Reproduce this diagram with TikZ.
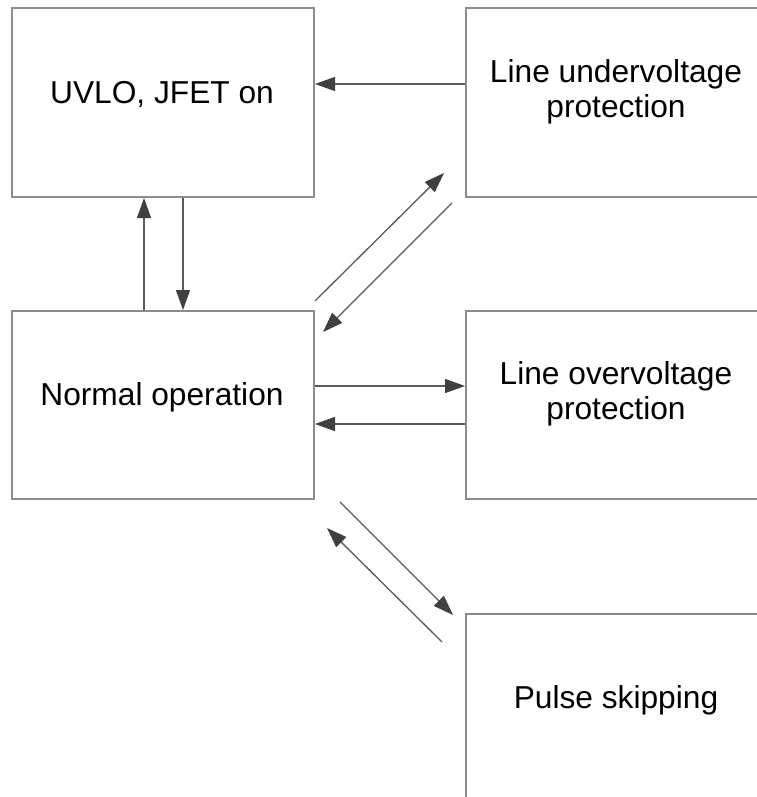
\documentclass[tikz,border=0pt]{standalone}
\usepackage{fontspec}
\setmainfont{Liberation Sans}
\usetikzlibrary{arrows.meta,calc}
\definecolor{boxgray}{HTML}{8C8C8C}
\definecolor{arrgray}{HTML}{5A5A5A}
\definecolor{tipgray}{HTML}{404040}
\begin{document}
\begin{tikzpicture}[x=1pt,y=-1pt,
  box/.style={draw=boxgray,line width=2pt,minimum width=302pt,minimum height=188pt,inner sep=0pt,anchor=north west},
  lbl/.style={font=\fontsize{31.7}{35}\selectfont,inner sep=0pt,align=center,text=black},
  arr/.style={draw=arrgray,line width=1.3pt,-{Triangle[length=20pt,width=14pt,fill=tipgray,color=tipgray]}}]
\useasboundingbox (0,0) rectangle (756,797);
\fill[white] (0,0) rectangle (756,797);
% boxes
\node[box,minimum height=189pt] (uvlo) at (11,7) {};
\node[box,minimum height=189pt] (luv) at (465,7) {};
\node[box] (normal) at (11,310) {};
\node[box] (lov) at (465,310) {};
\node[box] (pulse) at (465,613) {};
% texts
\node[lbl,anchor=base] (uvlot) at (162,103) {UVLO, JFET on};
\node[lbl,anchor=base] (normalt) at (162,405) {Normal operation};
\node[lbl,anchor=base] (pulset) at (616,708) {Pulse skipping};
\node[lbl] (luvt) at (616,91.5) {Line undervoltage\\protection};
\node[lbl] (lovt) at (616,394) {Line overvoltage\\protection};
% connectors
\draw[arr] ($(luv.west)+(0,-18.5)$) -- ($(uvlo.east)+(0,-18.5)$);
\draw[arr] ($(normal.north)+(-19,0)$) -- ($(uvlo.south)+(-19,0)$);
\draw[arr] ($(uvlo.south)+(20,0)$) -- ($(normal.north)+(20,0)$);
\draw[arr] ($(normal.north east)+(0,-9)$) -- ($(luv.south west)+(-21,-25)$);
\draw[arr] ($(luv.south west)+(-13,5)$) -- ($(normal.north east)+(8,22)$);
\draw[arr] ($(normal.east)+(0,-19)$) -- ($(lov.west)+(0,-19)$);
\draw[arr] ($(lov.west)+(0,19)$) -- ($(normal.east)+(0,19)$);
\draw[arr] ($(normal.south east)+(25,2)$) -- ($(pulse.north west)+(-12,2)$);
\draw[arr] ($(pulse.north west)+(-23,29)$) -- ($(normal.south east)+(12,28)$);
\end{tikzpicture}
\end{document}
